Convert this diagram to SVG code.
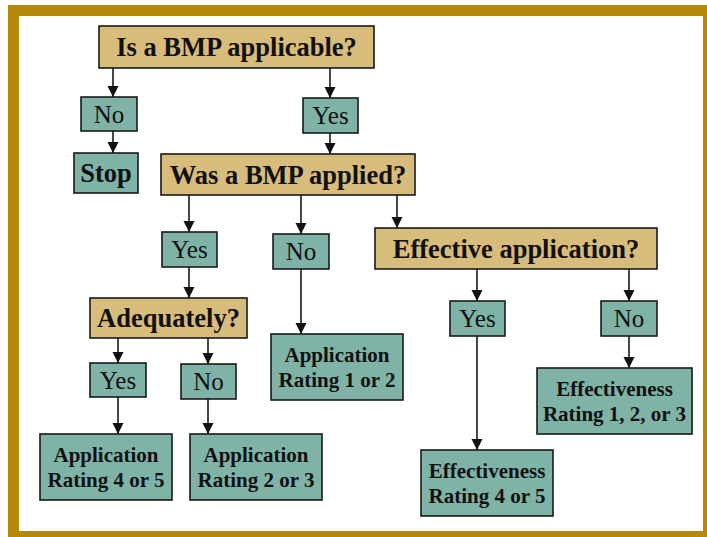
<svg xmlns="http://www.w3.org/2000/svg" width="707" height="537" viewBox="0 0 707 537">
<defs>
<style>
.q{fill:#D8BC7C;stroke:#1a1a1a;stroke-width:1.6}
.t{fill:#7FB3A7;stroke:#1a1a1a;stroke-width:1.6}
.h{font-family:"Liberation Serif",serif;font-weight:bold;font-size:26.5px;fill:#111;text-anchor:middle}
.yn{font-family:"Liberation Serif",serif;font-size:25px;fill:#111;text-anchor:middle}
.r{font-family:"Liberation Serif",serif;font-weight:bold;font-size:21px;fill:#111;text-anchor:middle}
.c{stroke:#1a1a1a;stroke-width:1.6;fill:none;marker-end:url(#ah)}
</style>
<marker id="ah" markerUnits="userSpaceOnUse" markerWidth="12" markerHeight="12" viewBox="0 0 12 12" refX="11" refY="6" orient="auto">
<path d="M0,0.5 L11,6 L0,11.5 Z" fill="#111"/>
</marker>
</defs>
<rect x="0" y="0" width="707" height="537" fill="#fff"/>
<rect x="8" y="5" width="706" height="537" fill="#B5870A"/>
<rect x="19" y="16" width="684" height="515" fill="#fff"/>

<g id="connectors">
<line class="c" x1="113" y1="68" x2="113" y2="97"/>
<line class="c" x1="330" y1="68" x2="330" y2="98"/>
<line class="c" x1="113" y1="131" x2="113" y2="153"/>
<line class="c" x1="330" y1="133" x2="330" y2="154"/>
<line class="c" x1="189" y1="195" x2="189" y2="232"/>
<line class="c" x1="301" y1="195" x2="301" y2="234"/>
<line class="c" x1="397" y1="195" x2="397" y2="228"/>
<line class="c" x1="189" y1="267" x2="189" y2="298"/>
<line class="c" x1="301" y1="269" x2="301" y2="334"/>
<line class="c" x1="118" y1="338" x2="118" y2="363"/>
<line class="c" x1="208" y1="338" x2="208" y2="364"/>
<line class="c" x1="118" y1="397" x2="118" y2="434"/>
<line class="c" x1="208" y1="399" x2="208" y2="434"/>
<line class="c" x1="477" y1="269" x2="477" y2="301"/>
<line class="c" x1="629" y1="269" x2="629" y2="301"/>
<line class="c" x1="477" y1="336" x2="477" y2="450"/>
<line class="c" x1="629" y1="336" x2="629" y2="368"/>
</g>

<g id="q1"><rect class="q" x="99" y="26" width="275" height="42"/><text class="h" x="236.5" y="56">Is a BMP applicable?</text></g>
<g id="no1"><rect class="t" x="81" y="97" width="56" height="34"/><text class="yn" x="109" y="123">No</text></g>
<g id="yes1"><rect class="t" x="303" y="98" width="55" height="35"/><text class="yn" x="330.5" y="124">Yes</text></g>
<g id="stop"><rect class="t" x="74" y="153" width="64" height="40"/><text class="h" x="106" y="182">Stop</text></g>
<g id="q2"><rect class="q" x="161" y="154" width="254" height="41"/><text class="h" x="288" y="184">Was a BMP applied?</text></g>
<g id="yes2"><rect class="t" x="162" y="232" width="55" height="35"/><text class="yn" x="189.5" y="258">Yes</text></g>
<g id="no2"><rect class="t" x="273" y="234" width="56" height="35"/><text class="yn" x="301" y="260">No</text></g>
<g id="q3"><rect class="q" x="375" y="228" width="282" height="41"/><text class="h" x="516" y="258">Effective application?</text></g>
<g id="q4"><rect class="q" x="90" y="298" width="157" height="40"/><text class="h" x="168.5" y="327">Adequately?</text></g>
<g id="yes3"><rect class="t" x="90" y="363" width="56" height="34"/><text class="yn" x="118" y="389">Yes</text></g>
<g id="no3"><rect class="t" x="181" y="364" width="55" height="35"/><text class="yn" x="208.5" y="390">No</text></g>
<g id="yes4"><rect class="t" x="450" y="301" width="55" height="35"/><text class="yn" x="477.5" y="327">Yes</text></g>
<g id="no4"><rect class="t" x="601" y="301" width="56" height="35"/><text class="yn" x="629" y="327">No</text></g>
<g id="app12"><rect class="t" x="271" y="334" width="132" height="66"/><text class="r" x="337" y="362">Application</text><text class="r" x="337" y="387">Rating 1 or 2</text></g>
<g id="app45"><rect class="t" x="40" y="434" width="132" height="66"/><text class="r" x="106" y="462">Application</text><text class="r" x="106" y="487">Rating 4 or 5</text></g>
<g id="app23"><rect class="t" x="190" y="434" width="132" height="66"/><text class="r" x="256" y="462">Application</text><text class="r" x="256" y="487">Rating 2 or 3</text></g>
<g id="eff123"><rect class="t" x="537" y="368" width="155" height="66"/><text class="r" x="614.5" y="396">Effectiveness</text><text class="r" x="614.5" y="421">Rating 1, 2, or 3</text></g>
<g id="eff45"><rect class="t" x="421" y="450" width="132" height="66"/><text class="r" x="487" y="478">Effectiveness</text><text class="r" x="487" y="503">Rating 4 or 5</text></g>
</svg>
